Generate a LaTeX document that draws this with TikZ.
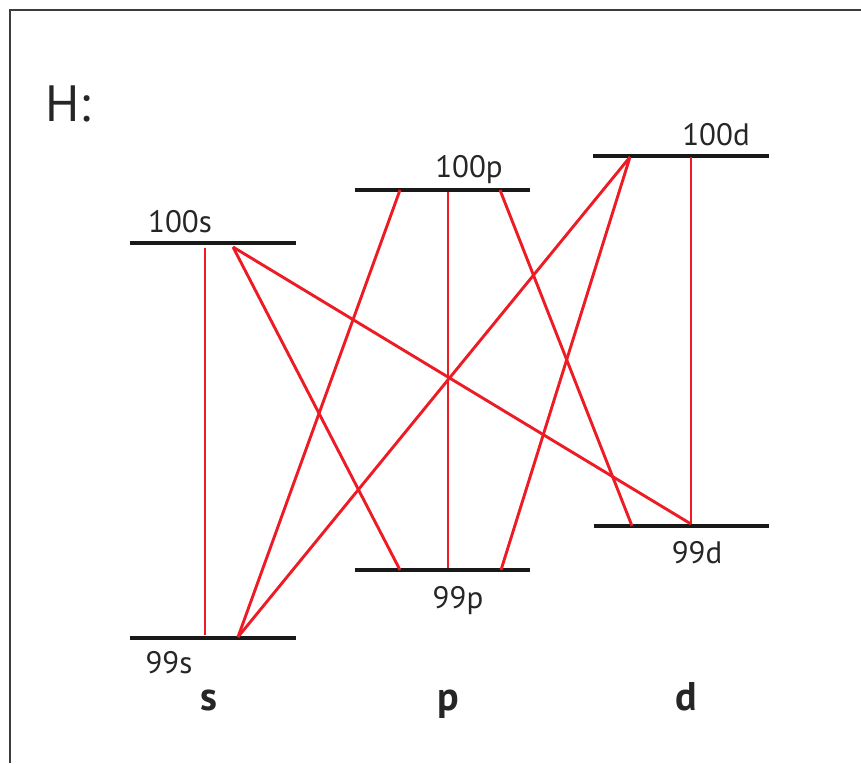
\documentclass[tikz,border=0pt]{standalone}
\usepackage{fontspec}
\setmainfont{PT Sans}
\definecolor{lred}{RGB}{237,28,36}
\definecolor{frame}{RGB}{60,60,60}
\begin{document}
\begin{tikzpicture}[x=1pt,y=-1pt,
  level/.style={line width=3.4pt,black!90},
  trans/.style={line width=2.9pt,lred},
  lab/.style={font=\fontsize{31}{32}\selectfont,anchor=base,inner sep=0pt,text=black!85},
  orb/.style={font=\fontsize{40}{42}\selectfont\bfseries,anchor=base,inner sep=0pt,text=black!85}]
\useasboundingbox (0,0) rectangle (861,763);
\draw[frame,line width=2pt] (9.5,763) -- (9.5,9.5) -- (861,9.5);
\node[font=\fontsize{51}{52}\selectfont,anchor=base west,inner sep=0pt,text=black!85] (H) at (45,121) {H:};
% levels
\coordinate (s100a) at (130,243); \coordinate (s100b) at (296,243);
\coordinate (s99a) at (130,638); \coordinate (s99b) at (296,638);
\coordinate (p100a) at (355,190); \coordinate (p100b) at (530,190);
\coordinate (p99a) at (355,570); \coordinate (p99b) at (530,570);
\coordinate (d100a) at (593,156); \coordinate (d100b) at (769,156);
\coordinate (d99a) at (594,526); \coordinate (d99b) at (769,526);
\draw[level] (s100a) -- (s100b);
\draw[level] (s99a) -- (s99b);
\draw[level] (p100a) -- (p100b);
\draw[level] (p99a) -- (p99b);
\draw[level] (d100a) -- (d100b);
\draw[level] (d99a) -- (d99b);
% endpoints
\coordinate (sv1) at (205,248); \coordinate (sv2) at (205,635);
\coordinate (s1) at (233,247); \coordinate (s2) at (238,637);
\coordinate (p1) at (400,190); \coordinate (p2) at (448,192); \coordinate (p3) at (500,190);
\coordinate (q1) at (400,570); \coordinate (q2) at (448,568); \coordinate (q3) at (501,570);
\coordinate (d1) at (630,157); \coordinate (d2) at (691,157);
\coordinate (e1) at (632,526); \coordinate (e2) at (691,524);
\draw[trans] (sv1) -- (sv2);
\draw[trans] (s1) -- (e2);
\draw[trans] (s1) -- (q1);
\draw[trans] (s2) -- (p1);
\draw[trans] (s2) -- (d1);
\draw[trans] (p2) -- (q2);
\draw[trans] (p3) -- (e1);
\draw[trans] (q3) -- (d1);
\draw[trans] (d2) -- (e2);
% labels
\node[lab] (l100s) at (180,232) {100s};
\node[lab] (l100p) at (469,177) {100p};
\node[lab] (l100d) at (716,145) {100d};
\node[lab] (l99s) at (169,673) {99s};
\node[lab] (l99p) at (458,608) {99p};
\node[lab] (l99d) at (697,563) {99d};
\node[orb] (os) at (209,710) {s};
\node[orb] (op) at (448,710) {p};
\node[orb] (od) at (686,710) {d};
\end{tikzpicture}
\end{document}
